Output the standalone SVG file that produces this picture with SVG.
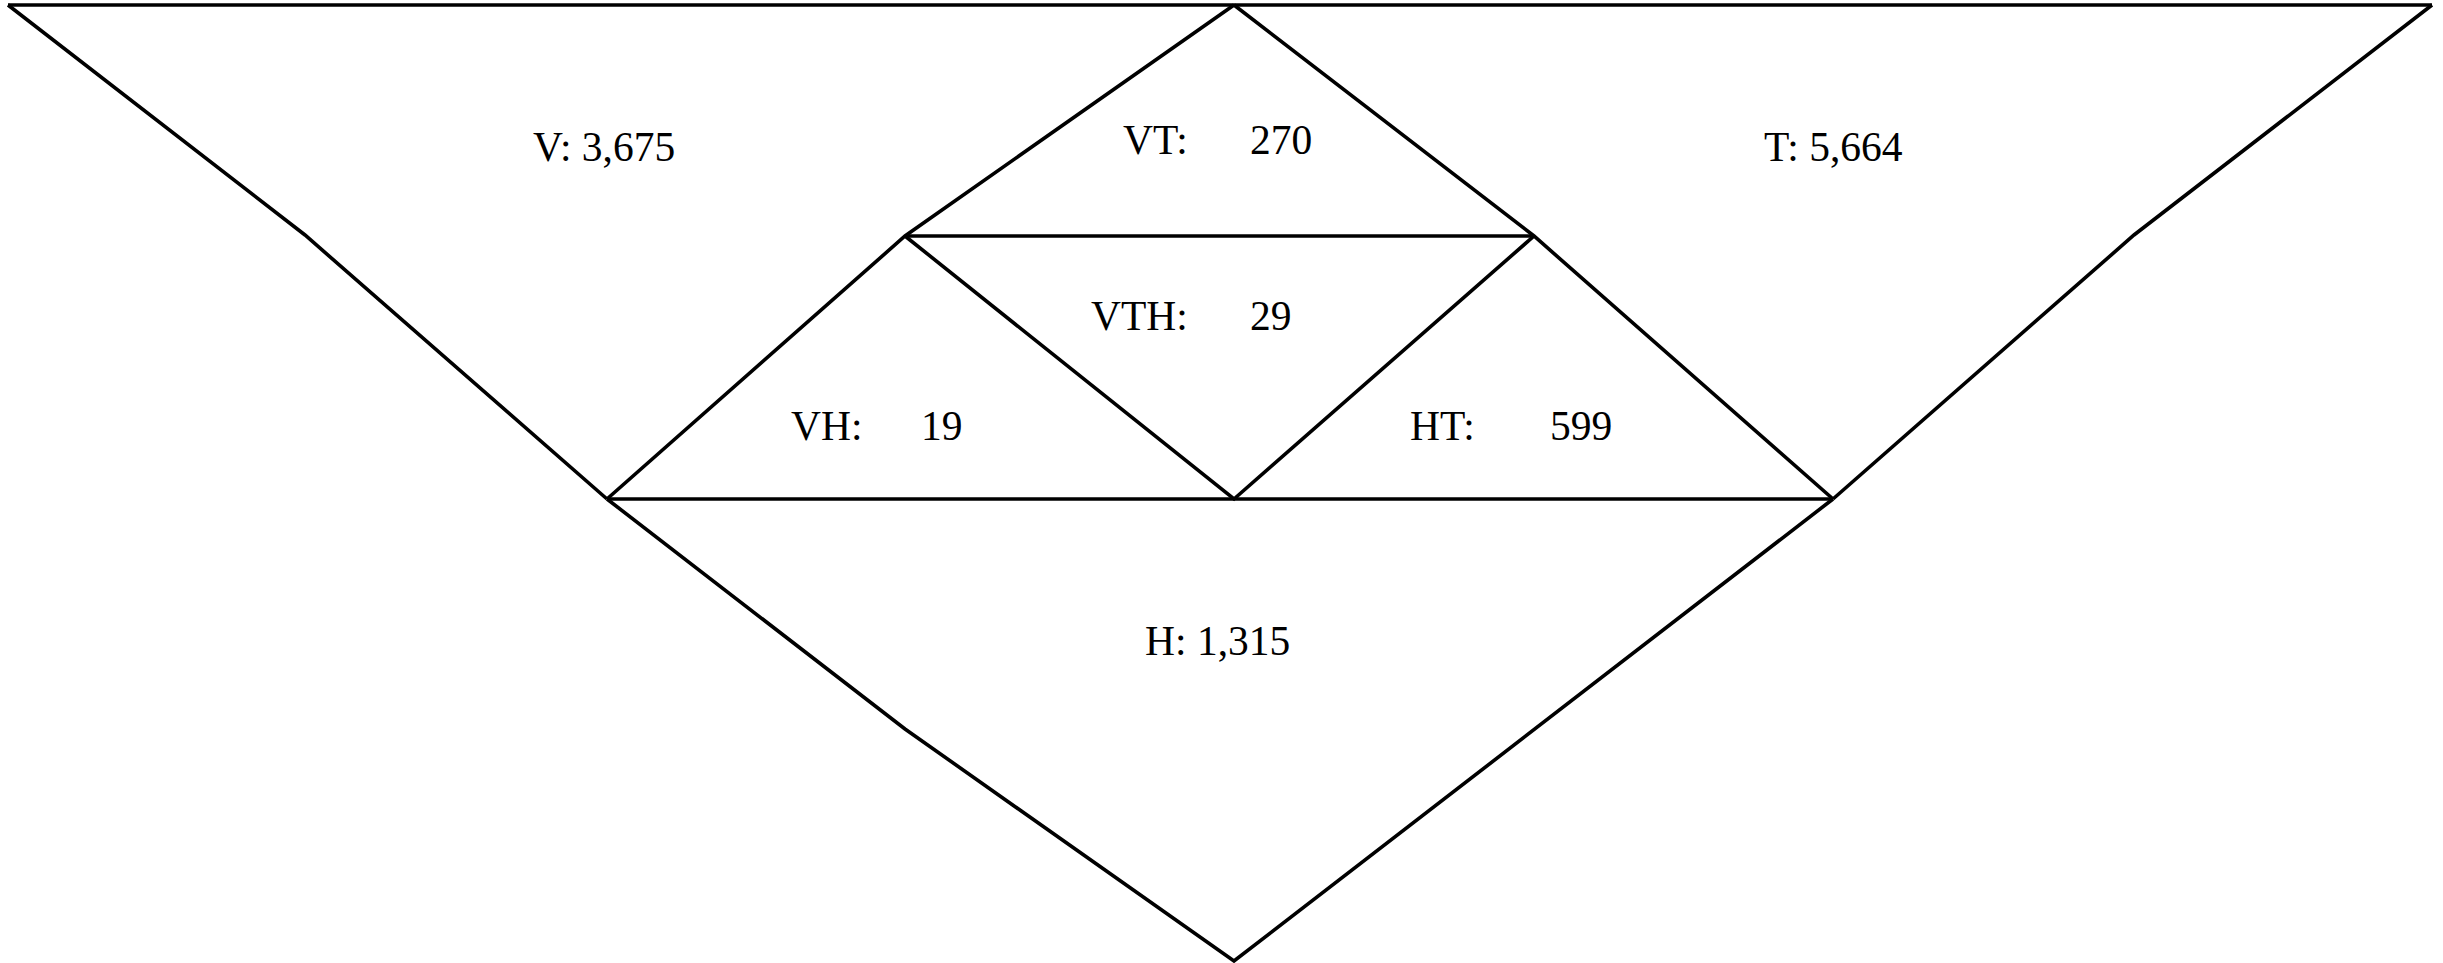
<svg xmlns="http://www.w3.org/2000/svg" width="2443" height="963" viewBox="0 0 2443 963">
<style>
.e{fill:none;stroke:#000;stroke-width:3.6;stroke-linejoin:miter;stroke-linecap:butt}
.t{font-family:"Liberation Serif","Times New Roman",serif;font-size:41.5px;fill:#000}
</style>
<rect width="2443" height="963" fill="#fff"/>
<g id="connectors">
<polyline class="e" points="8,5 2432,5"/>
<polyline class="e" points="8,5 305,235 607,499"/>
<polyline class="e" points="2432,5 2134,235 1833,499"/>
<polyline class="e" points="1234,5 905,236 607,499"/>
<polyline class="e" points="1234,5 1534,236 1833,499"/>
<polyline class="e" points="905,236 1534,236"/>
<polyline class="e" points="607,499 1833,499"/>
<polyline class="e" points="905,236 1234,499 1534,236"/>
<polyline class="e" points="607,499 905,729 1234,961 1833,499"/>
</g>
<g id="V"><text class="t" x="533" y="161">V: 3,675</text></g>
<g id="T"><text class="t" x="1764" y="161">T: 5,664</text></g>
<g id="VT"><text class="t" y="154"><tspan x="1123">VT:</tspan><tspan x="1250">270</tspan></text></g>
<g id="VTH"><text class="t" y="330"><tspan x="1091">VTH:</tspan><tspan x="1250">29</tspan></text></g>
<g id="VH"><text class="t" y="440"><tspan x="791">VH:</tspan><tspan x="921">19</tspan></text></g>
<g id="HT"><text class="t" y="440"><tspan x="1410">HT:</tspan><tspan x="1550">599</tspan></text></g>
<g id="H"><text class="t" x="1145" y="655">H: 1,315</text></g>
</svg>
